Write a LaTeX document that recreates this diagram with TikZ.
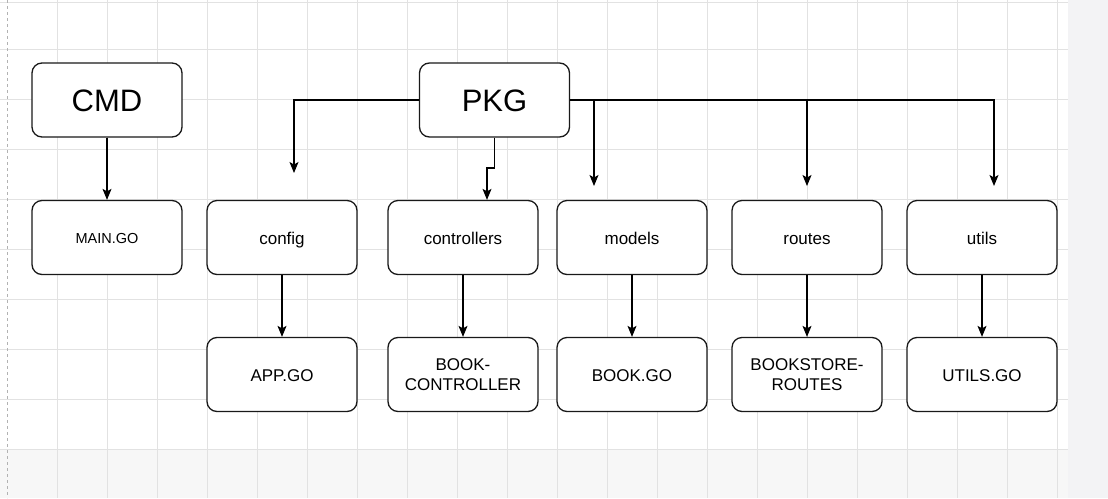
\documentclass[tikz,border=0pt]{standalone}
\usepackage{fontspec}
\setmainfont{Liberation Sans}
\usetikzlibrary{arrows.meta,positioning,calc}
\definecolor{xGrid}{RGB}{226,226,226}
\definecolor{xPanel}{RGB}{243,243,245}
\tikzset{
  box/.style={draw=black!90, line width=1.3pt, rounded corners=10pt, fill=white,
    minimum width=150pt, minimum height=74pt, align=center, inner sep=2pt},
  bigtxt/.style={font=\fontsize{31}{36}\selectfont, text height=23pt, text depth=1pt},
  midtxt/.style={font=\fontsize{17}{19.5}\selectfont},
  oneline/.style={midtxt, text height=14pt, text depth=0pt},
  smalltxt/.style={font=\fontsize{14.5}{17}\selectfont, text height=11pt, text depth=0pt},
  arr/.style={line width=1.1pt, -{Stealth[length=11pt,width=9pt,inset=2.5pt]}}
}

\begin{document}
\begin{tikzpicture}[x=1pt,y=-1pt]
    \useasboundingbox (0,0) rectangle (1108,498);
    % Background and grid
    \fill[white] (0,0) rectangle (1108,498);
    \fill[black!3] (0,450) rectangle (1068,498);
    \fill[xPanel] (1068,0) rectangle (1108,498);
    \foreach \x in {57,107,...,1057} {
      \draw[xGrid, line width=0.8pt] (\x,0) -- (\x,498);
    }
    \foreach \y in {2,49,99,...,449} {
      \draw[xGrid, line width=0.8pt] (0,\y) -- (1068,\y);
    }
    \draw[gray!60, dashed, line width=0.8pt] (7,0) -- (7,498);

    % Top level
    \node[box, bigtxt] (cmd) at (107,100) {CMD};
    \node[box, bigtxt] (pkg) at (494.5,100) {PKG};

    % Packages
    \node[box, smalltxt] (main) at (107,237.5) {MAIN.GO};
    \node[box, oneline] (config) at (282,237.5) {config};
    \node[box, oneline] (controllers) at (463,237.5) {controllers};
    \node[box, oneline] (models) at (632,237.5) {models};
    \node[box, oneline] (routes) at (807,237.5) {routes};
    \node[box, oneline] (utils) at (982,237.5) {utils};

    % Files
    \node[box, oneline] (appgo) at (282,374.5) {APP.GO};
    \node[box, midtxt] (bookctrl) at (463,374.5) {BOOK-\\CONTROLLER};
    \node[box, oneline] (bookgo) at (632,374.5) {BOOK.GO};
    \node[box, midtxt] (bsroutes) at (807,374.5) {BOOKSTORE-\\ROUTES};
    \node[box, oneline] (utilsgo) at (982,374.5) {UTILS.GO};

    % Loose arrow ends
    \coordinate (cfgtip) at (294,173);
    \coordinate (ctrlbend) at (494.5,168);
    \coordinate (modtip) at (594,186);
    \coordinate (routip) at (807,186);
    \coordinate (utltip) at (994,186);

    \draw[arr] (cmd) -- (main);
    \draw[arr] (pkg.west) -| (cfgtip);
    \draw[arr] (pkg.south) -- (ctrlbend) -| ([xshift=24pt]controllers.north);
    \draw[arr] (pkg.east) -| (utltip);
    \draw[arr] (pkg.east -| modtip) -- (modtip);
    \draw[arr] (pkg.east -| routip) -- (routip);

    \foreach \a/\b in {config/appgo, controllers/bookctrl, models/bookgo, routes/bsroutes, utils/utilsgo} {
      \draw[arr] (\a) -- (\b);
    }
\end{tikzpicture}
\end{document}
